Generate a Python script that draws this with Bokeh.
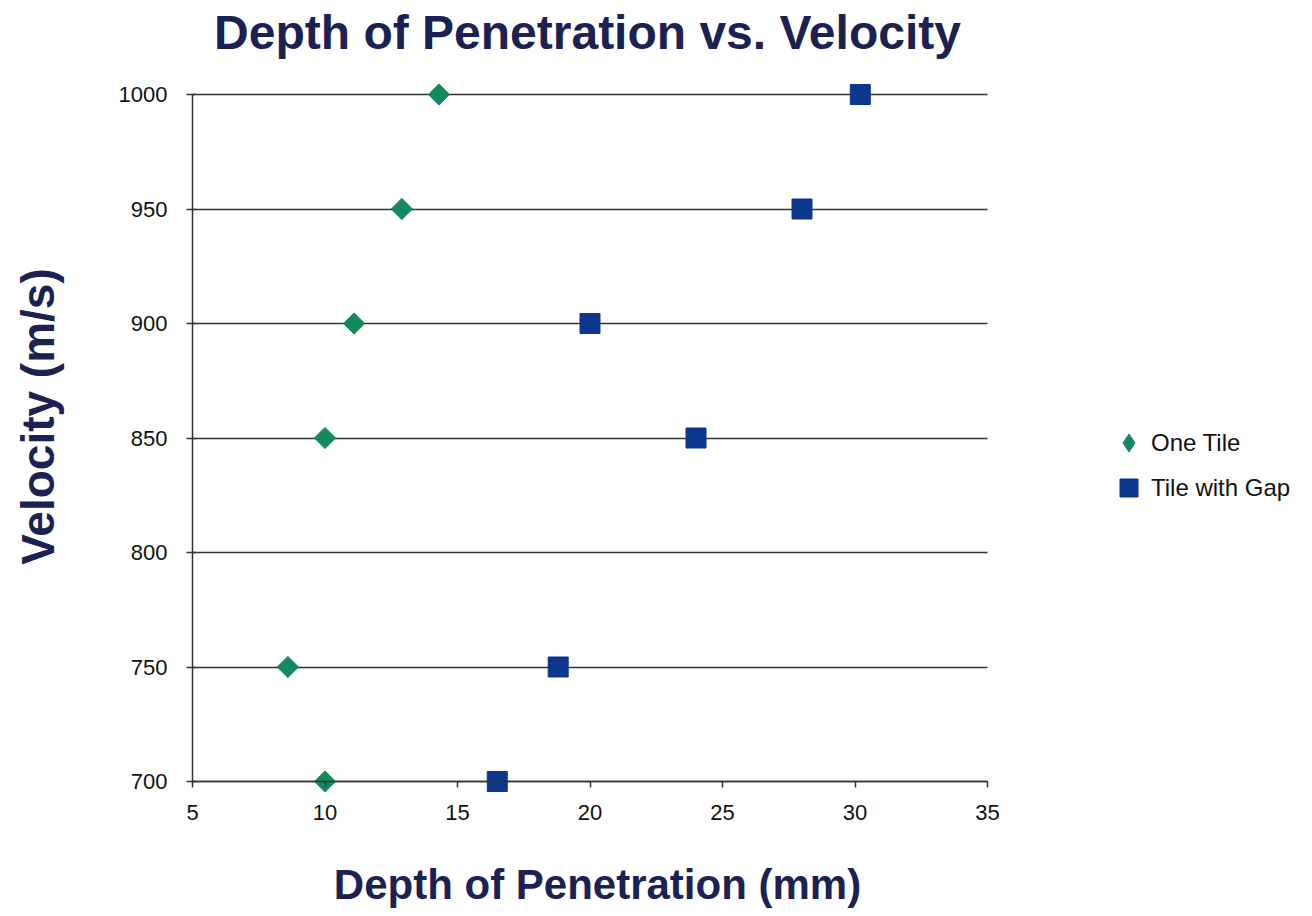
import math
from bokeh.plotting import figure
from bokeh.models import Range1d, FixedTicker, Label, Legend, LegendItem
from bokeh.embed import file_html
from bokeh.resources import INLINE

# ---- data ----
one_tile_depth = [10.0, 8.6, 10.0, 11.1, 12.9, 14.3]
one_tile_velocity = [700, 750, 850, 900, 950, 1000]
gap_depth = [16.5, 18.8, 24.0, 20.0, 28.0, 30.2]
gap_velocity = [700, 750, 850, 900, 950, 1000]
x_ticks = [5, 10, 15, 20, 25, 30, 35]
y_ticks = [700, 750, 800, 850, 900, 950, 1000]
series_names = ["One Tile", "Tile with Gap"]

title_text = "Depth of Penetration vs. Velocity"
x_title = "Depth of Penetration (mm)"
y_title = "Velocity (m/s)"

NAVY_TXT = "#1b2152"
GREEN = "#138a5c"
BLUE = "#0c378c"
GRID = "#333333"
FONT = "Liberation Sans"
W, H = 1312, 916

# pixel placement of the data box on the canvas
X0_PX, X1_PX = 192, 987
Y0_PX, Y1_PX = 781, 94
xs = (X1_PX - X0_PX) / (x_ticks[-1] - x_ticks[0])
ys = (Y0_PX - Y1_PX) / (y_ticks[-1] - y_ticks[0])
x_start = x_ticks[0] - X0_PX / xs
x_end = x_ticks[0] + (W - X0_PX) / xs
y_top = y_ticks[-1] + Y1_PX / ys
y_bottom = y_ticks[0] - (H - Y0_PX) / ys


def dx(px):
    return x_start + px / xs


def dy(py):
    return y_top - py / ys


p = figure(width=W, height=H, output_backend="svg", toolbar_location=None, title=None,
           x_range=Range1d(x_start, x_end), y_range=Range1d(y_bottom, y_top),
           min_border=0)
p.outline_line_color = None
p.background_fill_color = "white"
p.border_fill_color = "white"

# axes
for ax in (p.xaxis[0], p.yaxis[0]):
    ax.axis_line_color = GRID
    ax.axis_line_width = 1.5
    ax.major_tick_line_color = GRID
    ax.major_tick_line_width = 1.5
    ax.minor_tick_line_color = None
    ax.major_label_text_font = FONT
    ax.major_label_text_font_size = "22px"
    ax.major_label_text_color = "#111111"

p.xaxis.ticker = FixedTicker(ticks=x_ticks)
p.yaxis.ticker = FixedTicker(ticks=y_ticks)
p.xaxis.fixed_location = y_ticks[0]
p.yaxis.fixed_location = x_ticks[0]
p.xaxis.bounds = (x_ticks[0], x_ticks[-1])
p.yaxis.bounds = (y_ticks[0], y_ticks[-1])
p.xaxis.major_tick_in = 0
p.xaxis.major_tick_out = 6
p.yaxis.major_tick_in = 3
p.yaxis.major_tick_out = 6
p.xaxis.major_label_standoff = 17
p.yaxis.major_label_standoff = 19

p.xgrid.grid_line_color = None
p.ygrid.ticker = FixedTicker(ticks=y_ticks)
p.ygrid.grid_line_color = GRID
p.ygrid.grid_line_width = 1.5
p.ygrid.cross_bounds = (x_ticks[0], x_ticks[-1])

# data marks
# legend key for the diamond series: a smaller diamond drawn underneath the real marks
r1_key = p.scatter(one_tile_depth, one_tile_velocity, marker="diamond", size=14,
                   fill_color=GREEN, line_color=GREEN)
r1 = p.scatter(one_tile_depth, one_tile_velocity, marker="square", angle=math.pi / 4,
               size=15, fill_color=GREEN, line_color=GREEN)
r2 = p.scatter(gap_depth, gap_velocity, marker="square",
               size=20, fill_color=BLUE, line_color=BLUE)

legend = Legend(items=[LegendItem(label=series_names[0], renderers=[r1_key]),
                       LegendItem(label=series_names[1], renderers=[r2])],
                location=(1106, H - 510), glyph_width=45, glyph_height=45, spacing=0,
                padding=10, label_standoff=-8, border_line_color=None,
                background_fill_alpha=0, label_text_font=FONT,
                label_text_font_size="24px", label_text_color="#111111")
p.add_layout(legend, "center")

# titles
p.add_layout(Label(x=dx(587), y=dy(31.5), text=title_text, text_font=FONT, text_font_size="48px",
                   text_font_style="bold", text_color=NAVY_TXT, text_align="center",
                   text_baseline="middle"))
p.add_layout(Label(x=dx(597), y=dy(884), text=x_title, text_font=FONT, text_font_size="42px",
                   text_font_style="bold", text_color=NAVY_TXT, text_align="center",
                   text_baseline="middle"))
p.add_layout(Label(x=dx(37), y=dy(416), text=y_title, angle=math.pi / 2, text_font=FONT,
                   text_font_size="46px", text_font_style="bold", text_color=NAVY_TXT,
                   text_align="center", text_baseline="middle"))

open("out.html", "w").write(file_html(p, INLINE))
